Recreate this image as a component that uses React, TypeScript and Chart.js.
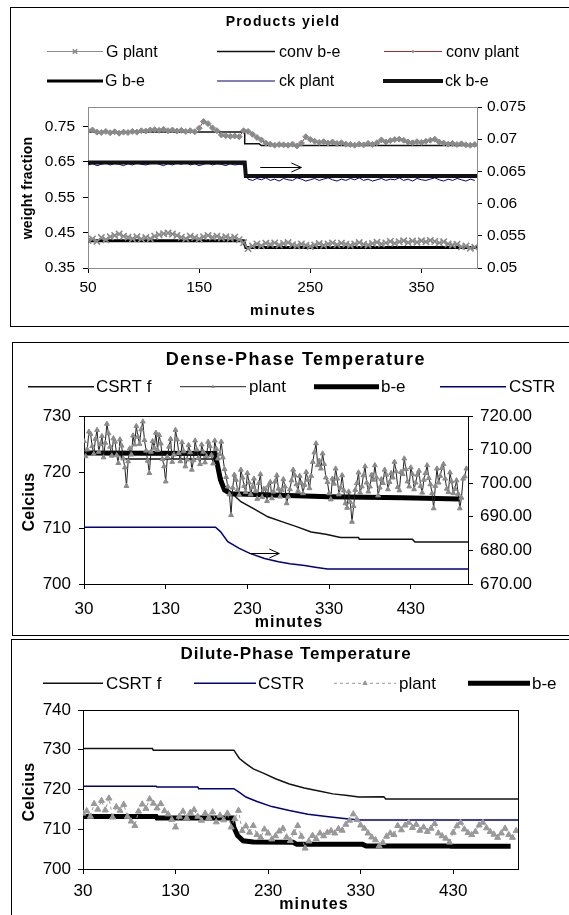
import React, { useEffect, useRef } from 'react';
import { Chart, registerables } from 'chart.js';

Chart.register(...registerables);

const FONT = '"Liberation Sans", Arial, Helvetica, sans-serif';
Chart.defaults.font.family = FONT;
Chart.defaults.color = '#000';

const W = 569;
const GRAY = '#8a8a8a';
const NAVY = '#000080';
const DARKRED = '#9b2d2d';

// ---------------- Panel 1 : Products yield ----------------
const P1_TITLE = 'Products yield';
const P1_Y_TITLE = 'weight fraction';
const X_TITLE = 'minutes';
const P1_X_TICKS = [50, 150, 250, 350];
const P1_LEFT_TICKS = [0.35, 0.45, 0.55, 0.65, 0.75];
const P1_RIGHT_TICKS = [0.05, 0.055, 0.06, 0.065, 0.07, 0.075];
const P1_T0 = 50;
const P1_DT = 4;
const P1_G_PLANT = [
  0.428, 0.432, 0.425, 0.436, 0.430, 0.438, 0.442, 0.446, 0.440, 0.437,
  0.433, 0.438, 0.432, 0.436, 0.433, 0.440, 0.444, 0.447, 0.449, 0.446,
  0.442, 0.437, 0.433, 0.440, 0.436, 0.432, 0.438, 0.442, 0.437, 0.440,
  0.435, 0.438, 0.434, 0.437, 0.430, 0.422, 0.405, 0.412, 0.418, 0.413,
  0.420, 0.417, 0.421, 0.415, 0.419, 0.422, 0.416, 0.413, 0.418, 0.414,
  0.411, 0.415, 0.419, 0.414, 0.418, 0.421, 0.416, 0.420, 0.417, 0.414,
  0.418, 0.422, 0.417, 0.415, 0.419, 0.423, 0.418, 0.421, 0.425, 0.420,
  0.424, 0.427, 0.422, 0.426, 0.423, 0.427, 0.424, 0.428, 0.425, 0.421,
  0.424, 0.418, 0.415, 0.417, 0.410, 0.412, 0.406, 0.409,
];
const P1_CONV_PLANT = [
  0.738, 0.740, 0.734, 0.733, 0.736, 0.732, 0.735, 0.731, 0.734, 0.733,
  0.736, 0.734, 0.738, 0.737, 0.740, 0.741, 0.739, 0.742, 0.738, 0.740,
  0.737, 0.739, 0.736, 0.738, 0.735, 0.745, 0.764, 0.758, 0.746, 0.738,
  0.726, 0.724, 0.722, 0.723, 0.721, 0.738, 0.736, 0.728, 0.719, 0.712,
  0.703, 0.700, 0.697, 0.699, 0.698, 0.697, 0.700, 0.695, 0.703, 0.721,
  0.713, 0.708, 0.705, 0.707, 0.703, 0.706, 0.702, 0.704, 0.700, 0.699,
  0.697, 0.700, 0.698, 0.702, 0.699, 0.704, 0.712, 0.706, 0.710, 0.713,
  0.714, 0.711, 0.706, 0.704, 0.707, 0.705, 0.708, 0.711, 0.714, 0.706,
  0.703, 0.700, 0.702, 0.699, 0.701, 0.698, 0.697, 0.699,
];
const P1_CK_PLANT = [
  0.0660, 0.0662, 0.0659, 0.0661, 0.0663, 0.0660, 0.0662, 0.0661, 0.0659, 0.0662,
  0.0660, 0.0663, 0.0661, 0.0660, 0.0662, 0.0664, 0.0661, 0.0659, 0.0662, 0.0660,
  0.0663, 0.0661, 0.0664, 0.0660, 0.0662, 0.0659, 0.0661, 0.0663, 0.0660, 0.0662,
  0.0661, 0.0659, 0.0662, 0.0660, 0.0661, 0.0660,
  0.0638, 0.0636, 0.0639, 0.0637, 0.0640, 0.0636, 0.0638, 0.0635, 0.0639, 0.0637,
  0.0636, 0.0640, 0.0638, 0.0635, 0.0637, 0.0639, 0.0636, 0.0638, 0.0640, 0.0637,
  0.0635, 0.0638, 0.0636, 0.0639, 0.0637, 0.0640, 0.0636, 0.0638, 0.0635, 0.0637,
  0.0639, 0.0636, 0.0638, 0.0637, 0.0640, 0.0636, 0.0638, 0.0635, 0.0639, 0.0637,
  0.0636, 0.0638, 0.0640, 0.0637, 0.0635, 0.0638, 0.0636, 0.0639, 0.0637, 0.0635,
  0.0638, 0.0636,
];
const P1_CONV_BE_T = [50, 191, 191, 204, 206, 400];
const P1_CONV_BE = [0.734, 0.734, 0.701, 0.701, 0.696, 0.696];
const P1_G_BE_T = [50, 190, 192, 400];
const P1_G_BE = [0.427, 0.427, 0.408, 0.408];
const P1_CK_BE_T = [50, 191, 192, 400];
const P1_CK_BE = [0.0664, 0.0664, 0.0643, 0.0643];
const P1_ARROW = { x1: 205, x2: 242, y: 0.6366 };

// ---------------- Panel 2 : Dense-Phase Temperature ----------------
const P2_TITLE = 'Dense-Phase Temperature';
const Y_TITLE_T = 'Celcius';
const P23_X_TICKS = [30, 130, 230, 330, 430];
const P2_LEFT_TICKS = [700, 710, 720, 730];
const P2_RIGHT_TICKS = [670, 680, 690, 700, 710, 720];
const P23_T0 = 30;
const P23_DT = 4;
// plant samples at t = 30, 34, 38, ...
const P2_PLANT = [
  725.5, 724.0, 726.8, 723.2, 727.5, 725.0, 722.6, 728.6, 724.5, 726.0,
  723.0, 725.8, 722.4, 717.5, 724.2, 726.5, 728.2, 725.0, 729.0, 723.8,
  719.8, 725.5, 727.0, 726.6, 722.3, 718.3, 724.5, 721.8, 727.5, 723.4,
  725.3, 721.0, 724.8, 720.4, 725.6, 722.5, 724.9, 721.7, 725.4, 723.0,
  725.6, 722.4, 725.4, 720.5, 717.4, 712.3, 719.5, 716.8, 720.4, 717.5,
  719.8, 716.0, 718.8, 715.2, 719.6, 717.0, 714.8, 718.2, 716.5, 719.4,
  715.6, 718.7, 714.4, 716.9, 720.4, 717.8, 719.3, 716.2, 720.0, 717.1,
  721.8, 725.1, 722.0, 723.3, 719.0, 716.2, 718.8, 720.6, 716.0, 719.4,
  714.4, 716.5, 711.1, 716.8, 719.9, 717.4, 721.0, 716.5, 719.5, 721.2,
  715.8, 718.7, 720.4, 716.9, 719.8, 721.8, 717.3, 720.0, 722.4, 718.3,
  720.8, 716.9, 719.5, 717.5, 718.6, 721.2, 717.8, 713.5, 720.6, 719.3,
  721.4, 717.0, 719.9, 716.2, 718.5, 713.5, 718.8, 720.6,
];
// plant samples at t = 32, 36, 40, ...
const P2_PLANT_MID = [
  722.8, 727.2, 724.6, 725.9, 723.6, 726.4, 725.2, 726.9, 722.9, 725.4,
  721.6, 724.7, 720.8, 721.9, 723.1, 724.9, 726.3, 727.6, 725.7, 722.0,
  723.6, 724.3, 723.9, 725.1, 721.0, 722.7, 725.9, 723.1, 725.8, 721.9,
  723.7, 722.2, 723.5, 722.1, 724.0, 721.4, 723.6, 722.8, 724.6, 721.5,
  724.1, 723.2, 722.6, 719.1, 716.0, 717.2, 718.6, 715.9, 719.0, 716.4,
  718.1, 717.3, 716.6, 718.0, 715.5, 716.9, 717.6, 715.3, 718.3, 717.0,
  716.8, 717.4, 715.6, 718.5, 719.4, 716.6, 718.0, 717.7, 718.6, 719.3,
  723.5, 721.2, 720.6, 721.4, 718.2, 715.1, 717.9, 718.8, 717.2, 716.7,
  713.6, 714.6, 713.9, 718.0, 716.3, 719.4, 718.1, 717.4, 718.6, 719.0,
  717.2, 718.0, 719.5, 718.2, 719.0, 720.1, 716.7, 719.6, 720.5, 717.4,
  719.6, 718.1, 720.2, 716.3, 719.8, 718.9, 716.2, 717.5, 718.1, 720.7,
  718.8, 716.4, 718.3, 717.0, 716.1, 715.4, 719.2,
];
const P2_CSRTF_T = [30, 75, 76, 192, 193, 198, 202, 211, 222, 237, 255, 273, 291, 308, 326, 344, 366, 367, 432, 435, 500];
const P2_CSRTF = [723.4, 723.4, 722.3, 722.3, 721.5, 719.2, 717.4, 716.2, 714.7, 713.5, 712.0, 711.1, 710.2, 709.3, 708.9, 708.3, 708.3, 708.0, 708.0, 707.5, 707.5];
const P2_BE_T = [30, 190, 193, 197, 202, 210, 260, 330, 420, 490];
const P2_BE = [723.4, 723.3, 721.5, 718.6, 716.8, 716.1, 715.9, 715.6, 715.4, 715.2];
const P2_CSTR_T = [30, 191, 197, 206, 220, 233, 251, 268, 282, 300, 313, 328, 500];
const P2_CSTR = [686.9, 686.9, 685.6, 682.6, 680.6, 679.1, 677.6, 676.6, 676.0, 675.5, 675.0, 674.5, 674.5];
const P2_ARROW = { x1: 232, x2: 269, y: 705.5 };

// ---------------- Panel 3 : Dilute-Phase Temperature ----------------
const P3_TITLE = 'Dilute-Phase Temperature';
const P3_LEFT_TICKS = [700, 710, 720, 730, 740];
const P3_PLANT = [
  714.0, 714.6, 713.2, 716.4, 715.0, 717.2, 714.8, 717.8, 713.0, 715.6,
  714.7, 716.2, 713.2, 712.0, 710.9, 714.5, 716.3, 715.2, 717.6, 716.5,
  715.3, 716.4, 714.6, 713.8, 712.4, 710.5, 713.2, 714.5, 712.8, 714.2,
  714.9, 713.2, 712.2, 714.0, 712.9, 714.3, 711.8, 713.5, 712.3, 714.0,
  710.5, 712.6, 714.7, 709.6, 710.8, 709.2, 710.9, 708.6, 707.9, 710.0,
  709.0, 707.5, 708.3, 709.5, 710.2, 708.0, 707.1, 709.1, 710.9, 708.2,
  705.2, 707.0, 708.4, 707.6, 709.0, 708.3, 709.2, 709.6, 709.0, 710.1,
  709.7, 711.2, 712.2, 713.8, 712.4, 711.0, 710.2, 709.0, 708.0, 707.3,
  705.8, 706.6, 708.2, 709.0, 708.6, 710.9, 709.8, 711.0, 711.7, 710.4,
  711.2, 709.7, 710.5, 709.4, 710.2, 711.4, 709.0, 708.3, 707.7, 706.7,
  709.2, 710.8, 711.7, 710.0, 709.1, 708.6, 709.4, 711.0, 711.7, 710.3,
  709.4, 708.7, 707.9, 709.0, 710.2, 708.6, 707.9, 709.6,
];
const P3_CSRTF_T = [30, 105, 106, 193, 199, 206, 214, 226, 238, 253, 269, 285, 300, 316, 328, 355, 357, 500];
const P3_CSRTF = [730.3, 730.3, 729.9, 729.9, 727.8, 726.5, 725.2, 724.0, 722.7, 721.4, 720.4, 719.6, 718.9, 718.5, 718.1, 718.2, 717.6, 717.6];
const P3_CSTR_T = [30, 109, 110, 154, 155, 193, 199, 206, 218, 234, 253, 273, 293, 312, 328, 500];
const P3_CSTR = [720.8, 720.8, 720.6, 720.6, 720.2, 720.2, 719.3, 718.1, 717.0, 715.7, 714.7, 713.8, 713.2, 712.7, 712.3, 712.3];
const P3_BE_T = [30, 109, 110, 191, 193, 197, 203, 214, 257, 261, 332, 336, 426, 428, 492];
const P3_BE = [713.2, 713.2, 712.8, 712.8, 710.5, 708.4, 707.1, 706.8, 706.7, 706.2, 706.2, 705.8, 705.8, 705.7, 705.7];

// ---------------- helpers ----------------
const onGrid = (t0: number, dt: number, vals: number[]) => vals.map((v, i) => ({ x: t0 + i * dt, y: v }));
const pairs = (ts: number[], vs: number[]) => ts.map((t, i) => ({ x: t, y: vs[i] }));
const mergeByX = (a: { x: number; y: number }[], b: { x: number; y: number }[]) =>
  [...a, ...b].sort((p, q) => p.x - q.x);

type LegendItem = { ds: number; x1: number; x2: number; y: number; tx: number; mr?: number; lw?: number };
type TextItem = { text: string; x: number; y: number; size: number; bold?: boolean; spacing?: number; rotate?: boolean };
type AxisSpec = { min: number; max: number; ticks: number[]; size: number; pad: number; fmt: (v: number) => string };
type Spec = {
  height: number;
  area: { left: number; right: number; top: number; bottom: number };
  x: AxisSpec;
  yL: AxisSpec;
  yR?: AxisSpec;
  frame: string;
  datasets: any[];
  legend: LegendItem[];
  legendSize: number;
  texts: TextItem[];
  arrow?: { x1: number; x2: number; y: number; axis: string };
};

function ds(label: string, data: any[], o: any) {
  return {
    label,
    data,
    yAxisID: o.axis || 'y',
    borderColor: o.color,
    borderWidth: o.width,
    borderDash: o.dash || [],
    pointRadius: o.pr || 0,
    pointHoverRadius: 0,
    pointStyle: o.ps || 'circle',
    pointBackgroundColor: o.pc || o.color,
    pointBorderColor: o.pc || o.color,
    pointBorderWidth: o.pbw || 1,
    tension: 0,
    fill: false,
    order: o.order || 0,
  };
}

function drawMarker(ctx: CanvasRenderingContext2D, style: string, x: number, y: number, r: number, fill: string, stroke: string, lw: number) {
  ctx.save();
  ctx.setLineDash([]);
  ctx.fillStyle = fill;
  ctx.strokeStyle = stroke;
  ctx.lineWidth = lw;
  ctx.beginPath();
  if (style === 'crossRot') {
    const d = r * 0.75;
    ctx.moveTo(x - d, y - d); ctx.lineTo(x + d, y + d);
    ctx.moveTo(x + d, y - d); ctx.lineTo(x - d, y + d);
    ctx.stroke();
  } else if (style === 'triangle') {
    ctx.moveTo(x, y - r); ctx.lineTo(x + r * 0.866, y + r * 0.5); ctx.lineTo(x - r * 0.866, y + r * 0.5);
    ctx.closePath(); ctx.fill(); ctx.stroke();
  } else if (style === 'rectRot') {
    ctx.moveTo(x, y - r); ctx.lineTo(x + r, y); ctx.lineTo(x, y + r); ctx.lineTo(x - r, y);
    ctx.closePath(); ctx.fill(); ctx.stroke();
  } else {
    ctx.rect(x - r, y - r, 2 * r, 2 * r); ctx.fill();
  }
  ctx.restore();
}

function makeDeco(spec: Spec) {
  return {
    id: 'deco',
    beforeDatasetsDraw(chart: any) {
      const { ctx, chartArea: a } = chart;
      ctx.save();
      ctx.strokeStyle = spec.frame;
      ctx.lineWidth = 1;
      ctx.strokeRect(Math.round(a.left) + 0.5, Math.round(a.top) + 0.5, Math.round(a.right - a.left), Math.round(a.bottom - a.top));
      ctx.restore();
    },
    afterDraw(chart: any) {
      const ctx: CanvasRenderingContext2D = chart.ctx;
      for (const t of spec.texts) {
        ctx.save();
        ctx.fillStyle = '#000';
        ctx.font = `${t.bold ? 'bold ' : ''}${t.size}px ${FONT}`;
        (ctx as any).letterSpacing = `${t.spacing || 0}px`;
        ctx.textAlign = 'center';
        ctx.textBaseline = 'alphabetic';
        if (t.rotate) {
          ctx.translate(t.x, t.y);
          ctx.rotate(-Math.PI / 2);
          ctx.fillText(t.text, 0, 0);
        } else {
          ctx.fillText(t.text, t.x, t.y);
        }
        ctx.restore();
      }
      for (const it of spec.legend) {
        const d = chart.data.datasets[it.ds];
        ctx.save();
        ctx.strokeStyle = d.borderColor;
        ctx.lineWidth = it.lw ?? d.borderWidth;
        ctx.setLineDash(d.borderDash || []);
        ctx.beginPath();
        ctx.moveTo(it.x1, it.y);
        ctx.lineTo(it.x2, it.y);
        ctx.stroke();
        ctx.restore();
        if (d.pointRadius > 0) {
          drawMarker(ctx, d.pointStyle, (it.x1 + it.x2) / 2, it.y, it.mr ?? d.pointRadius, d.pointBackgroundColor, d.pointBorderColor, d.pointBorderWidth);
        }
        ctx.save();
        ctx.fillStyle = '#000';
        ctx.font = `${spec.legendSize}px ${FONT}`;
        ctx.textAlign = 'left';
        ctx.textBaseline = 'alphabetic';
        ctx.fillText(d.label, it.tx, it.y + spec.legendSize * 0.33);
        ctx.restore();
      }
      if (spec.arrow) {
        const a = spec.arrow;
        const xs = chart.scales.x;
        const ys = chart.scales[a.axis];
        const x1 = xs.getPixelForValue(a.x1);
        const x2 = xs.getPixelForValue(a.x2);
        const y = Math.round(ys.getPixelForValue(a.y)) + 0.5;
        ctx.save();
        ctx.strokeStyle = '#000';
        ctx.lineWidth = 1;
        ctx.beginPath();
        ctx.moveTo(x1, y); ctx.lineTo(x2, y);
        ctx.moveTo(x2 - 10, y - 4.5); ctx.lineTo(x2, y); ctx.lineTo(x2 - 10, y + 4.5);
        ctx.stroke();
        ctx.restore();
      }
    },
  };
}

function axisOpts(a: AxisSpec, position: string, fit: (s: any) => void) {
  return {
    type: 'linear',
    position,
    min: a.min,
    max: a.max,
    afterBuildTicks: (s: any) => { s.ticks = a.ticks.map((v) => ({ value: v })); },
    afterFit: fit,
    ticks: {
      font: { family: FONT, size: a.size },
      color: '#000',
      padding: a.pad,
      maxRotation: 0,
      autoSkip: false,
      callback: (v: any) => a.fmt(Number(v)),
    },
    grid: { drawOnChartArea: false, drawTicks: true, tickLength: 5, color: '#000', lineWidth: 1 },
    border: { display: true, color: '#000', width: 1 },
  };
}

function buildConfig(spec: Spec): any {
  const scales: any = {
    x: axisOpts(spec.x, 'bottom', (s: any) => { s.height = spec.height - spec.area.bottom; }),
    y: axisOpts(spec.yL, 'left', (s: any) => { s.width = spec.area.left; }),
  };
  if (spec.yR) scales.y1 = axisOpts(spec.yR, 'right', (s: any) => { s.width = W - spec.area.right; });
  return {
    type: 'line',
    data: { datasets: spec.datasets },
    options: {
      responsive: false,
      animation: false,
      devicePixelRatio: 1,
      events: [],
      layout: { padding: { top: spec.area.top, left: 0, bottom: 0, right: spec.yR ? 0 : W - spec.area.right } },
      plugins: { legend: { display: false }, title: { display: false }, tooltip: { enabled: false } },
      scales,
    },
    plugins: [makeDeco(spec)],
  };
}

const fmt2 = (v: number) => v.toFixed(2);
const fmtShort = (v: number) => String(Number(v.toFixed(3)));
const fmt0 = (v: number) => String(Math.round(v));

// ---------------- specs ----------------
const spec1: Spec = {
  height: 336,
  area: { left: 88, right: 477, top: 107, bottom: 268 },
  x: { min: 50, max: 400, ticks: P1_X_TICKS, size: 15.5, pad: 5, fmt: fmt0 },
  yL: { min: 0.35, max: 0.805, ticks: P1_LEFT_TICKS, size: 15.5, pad: 8, fmt: fmt2 },
  yR: { min: 0.05, max: 0.075, ticks: P1_RIGHT_TICKS, size: 15.5, pad: 5, fmt: fmtShort },
  frame: '#8c8c8c',
  datasets: [
    ds('G plant', onGrid(P1_T0, P1_DT, P1_G_PLANT), { color: GRAY, width: 1, pr: 4.5, ps: 'crossRot', pc: GRAY, pbw: 1.6, order: 1 }),
    ds('conv b-e', pairs(P1_CONV_BE_T, P1_CONV_BE), { color: '#111', width: 1.5, order: 3 }),
    ds('conv plant', onGrid(P1_T0, P1_DT, P1_CONV_PLANT), { color: DARKRED, width: 1, pr: 3, ps: 'rectRot', pc: GRAY, pbw: 1, order: 1 }),
    ds('G b-e', pairs(P1_G_BE_T, P1_G_BE), { color: '#000', width: 3, order: 3 }),
    ds('ck plant', onGrid(P1_T0, P1_DT, P1_CK_PLANT), { color: NAVY, width: 1, axis: 'y1', order: 4 }),
    ds('ck b-e', pairs(P1_CK_BE_T, P1_CK_BE), { color: '#111', width: 4, axis: 'y1', order: 2 }),
  ],
  legend: [
    { ds: 0, x1: 47, x2: 103, y: 51.5, tx: 106, mr: 3 },
    { ds: 1, x1: 217, x2: 275, y: 51.5, tx: 279 },
    { ds: 2, x1: 384, x2: 442, y: 51.5, tx: 446, mr: 1.2 },
    { ds: 3, x1: 47, x2: 103, y: 81, tx: 105 },
    { ds: 4, x1: 217, x2: 275, y: 81, tx: 279 },
    { ds: 5, x1: 383, x2: 443, y: 81, tx: 445 },
  ],
  legendSize: 16,
  texts: [
    { text: P1_TITLE, x: 283, y: 26, size: 14, bold: true, spacing: 1.3 },
    { text: P1_Y_TITLE, x: 32, y: 188, size: 14, bold: true, spacing: 0.2, rotate: true },
    { text: X_TITLE, x: 283, y: 315, size: 15, bold: true, spacing: 1.2 },
  ],
  arrow: { ...P1_ARROW, axis: 'y' },
};

const spec2: Spec = {
  height: 300,
  area: { left: 84, right: 468, top: 80, bottom: 248 },
  x: { min: 30, max: 500, ticks: P23_X_TICKS, size: 17, pad: 10, fmt: fmt0 },
  yL: { min: 700, max: 730, ticks: P2_LEFT_TICKS, size: 17, pad: 8, fmt: fmt0 },
  yR: { min: 670, max: 720, ticks: P2_RIGHT_TICKS, size: 17, pad: 7, fmt: fmt2 },
  frame: '#000',
  datasets: [
    ds('CSRT f', pairs(P2_CSRTF_T, P2_CSRTF), { color: '#111', width: 1.5, order: 2 }),
    ds('plant', mergeByX(onGrid(P23_T0, P23_DT, P2_PLANT), onGrid(P23_T0 + 2, P23_DT, P2_PLANT_MID)), { color: '#222', width: 1, pr: 2.8, ps: 'triangle', pc: GRAY, pbw: 1, order: 0 }),
    ds('b-e', pairs(P2_BE_T, P2_BE), { color: '#000', width: 5, order: 1 }),
    ds('CSTR', pairs(P2_CSTR_T, P2_CSTR), { color: NAVY, width: 1.5, axis: 'y1', order: 3 }),
  ],
  legend: [
    { ds: 0, x1: 28, x2: 94, y: 50.7, tx: 96 },
    { ds: 1, x1: 180, x2: 246, y: 50.7, tx: 249, mr: 1.5 },
    { ds: 2, x1: 314, x2: 379, y: 50.7, tx: 381 },
    { ds: 3, x1: 440, x2: 506, y: 50.7, tx: 509 },
  ],
  legendSize: 17,
  texts: [
    { text: P2_TITLE, x: 296, y: 29, size: 18, bold: true, spacing: 1.5 },
    { text: Y_TITLE_T, x: 34, y: 166, size: 16, bold: true, spacing: 0.3, rotate: true },
    { text: X_TITLE, x: 289, y: 291, size: 16, bold: true, spacing: 1 },
  ],
  arrow: { ...P2_ARROW, axis: 'y' },
};

const spec3: Spec = {
  height: 279,
  area: { left: 83, right: 518, top: 74, bottom: 233 },
  x: { min: 30, max: 500, ticks: P23_X_TICKS, size: 17, pad: 7, fmt: fmt0 },
  yL: { min: 700, max: 740, ticks: P3_LEFT_TICKS, size: 17, pad: 7, fmt: fmt0 },
  frame: '#000',
  datasets: [
    ds('CSRT f', pairs(P3_CSRTF_T, P3_CSRTF), { color: '#111', width: 1.5, order: 2 }),
    ds('CSTR', pairs(P3_CSTR_T, P3_CSTR), { color: NAVY, width: 1.5, order: 2 }),
    ds('plant', onGrid(P23_T0, P23_DT, P3_PLANT), { color: '#999', width: 1, dash: [3, 3], pr: 3.5, ps: 'triangle', pc: '#999', pbw: 1, order: 0 }),
    ds('b-e', pairs(P3_BE_T, P3_BE), { color: '#000', width: 5, order: 1 }),
  ],
  legend: [
    { ds: 0, x1: 43, x2: 103, y: 47.3, tx: 106 },
    { ds: 1, x1: 194, x2: 256, y: 47.3, tx: 258 },
    { ds: 2, x1: 334, x2: 396, y: 47.3, tx: 399, mr: 2.5 },
    { ds: 3, x1: 468, x2: 530, y: 47.3, tx: 532 },
  ],
  legendSize: 17,
  texts: [
    { text: P3_TITLE, x: 296, y: 23.3, size: 17, bold: true, spacing: 0.9 },
    { text: Y_TITLE_T, x: 34, y: 156, size: 16, bold: true, spacing: 0.3, rotate: true },
    { text: X_TITLE, x: 314, y: 273, size: 16, bold: true, spacing: 1.2 },
  ],
};

function ChartPanel({ spec, top }: { spec: Spec; top: number }) {
  const ref = useRef<HTMLCanvasElement>(null);
  useEffect(() => {
    const chart = new Chart(ref.current as HTMLCanvasElement, buildConfig(spec));
    return () => chart.destroy();
  }, [spec]);
  return (
    <canvas
      ref={ref}
      width={W}
      height={spec.height}
      style={{ position: 'absolute', left: 0, top, width: W, height: spec.height }}
    />
  );
}

const boxStyle = (left: number, top: number, height: number): React.CSSProperties => ({
  position: 'absolute',
  left,
  top,
  width: 640,
  height,
  border: '1px solid #000',
  boxSizing: 'border-box',
});

export default function App() {
  return (
    <div style={{ position: 'fixed', left: 0, top: 0, width: W, height: 915, overflow: 'hidden', background: '#fff' }}>
      <div style={boxStyle(10, 7, 320)} />
      <div style={boxStyle(12, 342, 294)} />
      <div style={boxStyle(11, 639, 320)} />
      <ChartPanel spec={spec1} top={0} />
      <ChartPanel spec={spec2} top={336} />
      <ChartPanel spec={spec3} top={636} />
    </div>
  );
}
